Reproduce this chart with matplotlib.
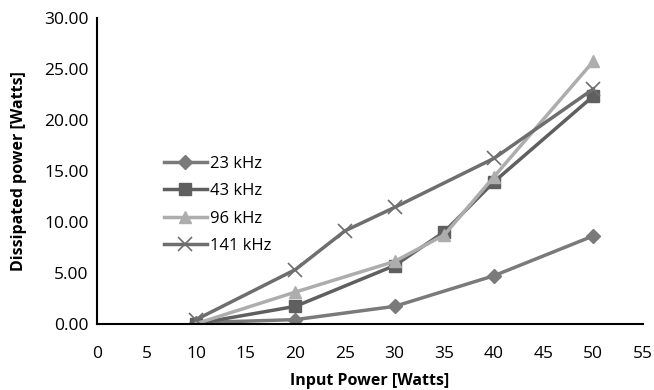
import matplotlib.pyplot as plt

plt.rcParams["font.family"] = "Open Sans"
plt.rcParams["font.size"] = 12

x_main = [10, 20, 30, 40, 50]
x_43 = [10, 20, 30, 35, 40, 50]
x_141 = [10, 20, 25, 30, 40, 50]

p_23 = [0.1, 0.4, 1.7, 4.7, 8.6]
p_43 = [0.0, 1.7, 5.7, 9.0, 13.9, 22.3]
p_96 = [0.0, 3.1, 6.1, 8.7, 14.4, 25.7]
p_141 = [0.4, 5.3, 9.1, 11.4, 16.2, 23.0]

fig = plt.figure(figsize=(6.54, 3.9), dpi=100)
ax = fig.add_axes([0.148, 0.17, 0.835, 0.785])

ax.plot(x_main, p_23, color="#7a7a7a", lw=2.5, marker="D", ms=7, label="23 kHz")
ax.plot(x_43, p_43, color="#5f5f5f", lw=2.5, marker="s", ms=8, label="43 kHz")
ax.plot(x_43, p_96, color="#adadad", lw=2.5, marker="^", ms=9, label="96 kHz")
ax.plot(x_141, p_141, color="#6e6e6e", lw=2.5, marker="x", ms=10, mew=1.2, label="141 kHz")

ax.set_xlim(0, 55)
ax.set_ylim(0, 30)
ax.set_xticks(range(0, 56, 5))
ax.set_yticks(range(0, 31, 5))
ax.set_yticklabels([f"{v:.2f}" for v in range(0, 31, 5)])
ax.tick_params(length=0, labelsize=12.5)
ax.tick_params(axis="x", pad=16)
ax.tick_params(axis="y", pad=6)
ax.spines["top"].set_visible(False)
ax.spines["right"].set_visible(False)
ax.spines["left"].set_linewidth(1.5)
ax.spines["bottom"].set_linewidth(1.5)

ax.set_xlabel("Input Power [Watts]", fontweight="bold", fontsize=11.5, labelpad=8)
ax.set_ylabel("Dissipated power [Watts]", fontweight="bold", fontsize=11.5, labelpad=12)

ax.legend(loc="upper left", bbox_to_anchor=(0.095, 0.597), frameon=False,
          labelspacing=0.68, handlelength=2.6, handletextpad=0.15, fontsize=12)

plt.savefig("out.png")
